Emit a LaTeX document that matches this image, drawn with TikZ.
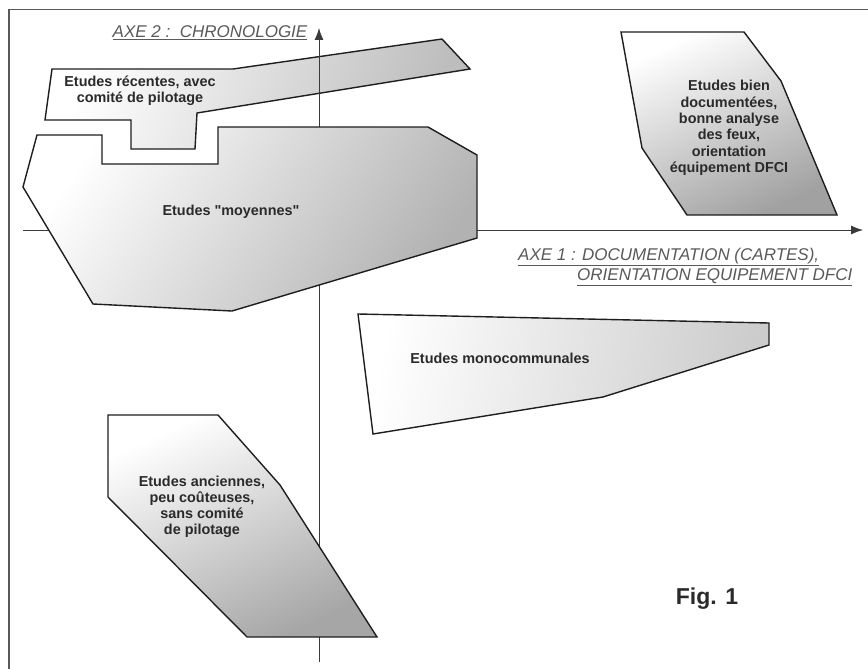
\documentclass[tikz,border=0pt]{standalone}
\usepackage{fontspec}
\setmainfont{Liberation Sans}
\newfontfamily\rawsans{Liberation Sans}[Ligatures=TeXOff]
\usetikzlibrary{arrows.meta}
\definecolor{edgec}{HTML}{1E1E1E}
\definecolor{axisc}{HTML}{3A3A3A}
\definecolor{labelc}{HTML}{5A5A5A}
\definecolor{textc}{HTML}{2A2A2A}
\begin{document}
\begin{tikzpicture}[x=1pt,y=-1pt,
  zone/.style={draw=edgec, line width=1.4pt, line join=miter},
  zonetext/.style={font=\fontsize{14.4}{16.2}\selectfont\bfseries, text=textc, align=center, inner sep=0pt},
  axisline/.style={draw=axisc, line width=0.8pt, -{Latex[length=12pt,width=9pt]}},
  axlabel/.style={font=\fontsize{17}{20}\selectfont\itshape, text=labelc, inner sep=0pt}]
\useasboundingbox (0,0) rectangle (868,669);
\fill[white] (0,0) rectangle (868,669);
% frame (only top and left edges visible)
\draw[color=black!65, line width=1.2pt] (9,669) -- (9,9.5) -- (868,9.5);

% Etudes recentes
\shadedraw[zone, top color=white, middle color=black!6, bottom color=black!26, shading angle=70]
  (52,69) -- (233,69) -- (442,39) -- (470,69) -- (197,113) -- (195,149)
  -- (131,149) -- (131,120) -- (45,120) -- cycle;

% axes
\coordinate (xo) at (23,230);
\coordinate (xe) at (863,230);
\coordinate (yo) at (319,662);
\coordinate (ye) at (319,28);
\draw[axisline] (xo) -- (xe);
\draw[axisline] (yo) -- (ye);

% Etudes moyennes
\shadedraw[zone, top color=white, middle color=black!9, bottom color=black!30, shading angle=55]
  (37,135) -- (102,135) -- (102,164) -- (218,164) -- (218,127) -- (428,127)
  -- (477,155) -- (477,238) -- (232,311) -- (93,304) -- (23,187) -- cycle;

% Etudes bien documentees
\shadedraw[zone, top color=white, middle color=black!8, bottom color=black!37, shading angle=25]
  (621,32) -- (744,32) -- (781,81) -- (837,215) -- (687,215) -- (642,148) -- cycle;

% Etudes monocommunales
\shadedraw[zone, top color=white, middle color=black!4, bottom color=black!20, shading angle=80]
  (358,314) -- (769,323) -- (769,345) -- (603,397) -- (373,434) -- cycle;

% Etudes anciennes
\shadedraw[zone, top color=white, middle color=black!10, bottom color=black!35, shading angle=25]
  (108,415) -- (218,415) -- (280,485) -- (377,637) -- (247,637) -- (108,497) -- cycle;

% texts
\node[zonetext] (tA) at (140,91) {Etudes récentes, avec\\comité de pilotage};
\node[zonetext] (tB) at (231,212) {Etudes {\rawsans\bfseries"}moyennes{\rawsans\bfseries"}};
\node[zonetext, font=\fontsize{14.4}{16.3}\selectfont\bfseries] (tC) at (729,128)
  {Etudes bien\\documentées,\\bonne analyse\\des feux,\\orientation\\équipement DFCI};
\node[zonetext] (tE) at (500,358) {Etudes monocommunales};
\node[zonetext] (tD) at (202,507) {Etudes anciennes,\\peu coûteuses,\\sans comité\\de pilotage};
\node[font=\fontsize{23}{26}\selectfont\bfseries, text=textc, inner sep=0pt] (fig) at (707,599) {Fig. 1};

% axis labels
\node[axlabel] (ax2) at (210,33) {\underline{AXE 2 :\ \ CHRONOLOGIE}};
\node[axlabel, anchor=west] (ax1a) at (518,257) {\underline{AXE 1 : DOCUMENTATION (CARTES),}};
\node[axlabel, anchor=west] (ax1b) at (577,277) {\underline{ORIENTATION EQUIPEMENT DFCI}};
\end{tikzpicture}
\end{document}
